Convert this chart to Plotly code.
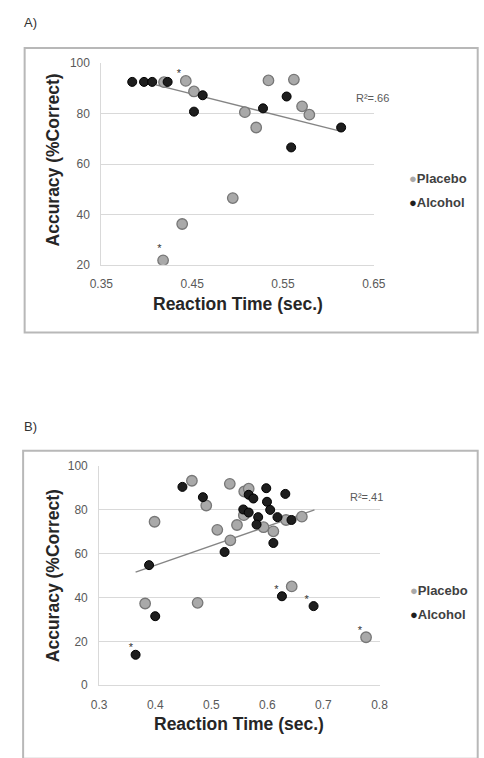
import plotly.graph_objects as go

W, H = 484, 758

# ---------------- Panel A data ----------------
a_placebo_rt = [0.419, 0.443, 0.452, 0.508, 0.5205, 0.534, 0.562, 0.571, 0.579, 0.4947, 0.439, 0.418]
a_placebo_acc = [92.5, 93.0, 88.8, 80.6, 74.5, 93.2, 93.5, 82.9, 79.6, 46.5, 36.2, 21.8]
a_alcohol_rt = [0.384, 0.397, 0.406, 0.423, 0.4616, 0.452, 0.528, 0.554, 0.559, 0.614]
a_alcohol_acc = [92.6, 92.6, 92.6, 92.6, 87.3, 80.8, 82.1, 86.8, 66.6, 74.5]
a_trend_rt = [0.410, 0.614]
a_trend_acc = [91.4, 73.0]
a_star_rt = [0.4355, 0.414]
a_star_acc = [95.7, 26.2]
a_xticks = [0.35, 0.45, 0.55, 0.65]
a_yticks = [20, 40, 60, 80, 100]

# ---------------- Panel B data ----------------
b_placebo_rt = [0.4654, 0.491, 0.3988, 0.533, 0.5107, 0.534, 0.5458, 0.5587, 0.5667,
                0.558, 0.5932, 0.6107, 0.6333, 0.6615, 0.382, 0.4756, 0.6434, 0.776]
b_placebo_acc = [93.3, 82.0, 74.6, 91.9, 70.9, 66.1, 73.1, 88.4, 89.7,
                 77.6, 72.1, 70.2, 75.4, 76.9, 37.3, 37.6, 45.1, 21.9]
b_alcohol_rt = [0.4485, 0.485, 0.5237, 0.389, 0.400, 0.365, 0.5667, 0.575, 0.557, 0.5667,
                0.5836, 0.5807, 0.6107, 0.598, 0.5993, 0.605, 0.618, 0.632, 0.643,
                0.626, 0.6824]
b_alcohol_acc = [90.5, 85.8, 60.8, 54.8, 31.5, 13.9, 86.9, 85.2, 80.2, 78.8,
                 76.7, 73.3, 64.9, 89.9, 83.7, 80.0, 76.7, 87.3, 75.4,
                 40.6, 36.1]
b_trend_rt = [0.365, 0.684]
b_trend_acc = [51.6, 80.0]
b_star_rt = [0.3565, 0.6163, 0.670, 0.765]
b_star_acc = [16.9, 43.4, 38.8, 24.8]
b_xticks = [0.3, 0.4, 0.5, 0.6, 0.7, 0.8]
b_yticks = [0, 20, 40, 60, 80, 100]

FONT = "Liberation Sans, Arial, sans-serif"
GRAY_FILL, GRAY_LINE = "#a9a9a9", "#777777"
BLACK_FILL, BLACK_LINE = "#1e1e1e", "#000000"

fig = go.Figure()

def add_panel(xa, ya, prt, pacc, art, aacc, trt, tacc, srt, sacc):
    fig.add_trace(go.Scatter(x=trt, y=tacc, mode="lines", xaxis=xa, yaxis=ya,
                             line=dict(color="#858585", width=1.3), showlegend=False, hoverinfo="skip"))
    fig.add_trace(go.Scatter(x=prt, y=pacc, mode="markers", xaxis=xa, yaxis=ya, name="Placebo",
                             marker=dict(size=10.5, color=GRAY_FILL, line=dict(color=GRAY_LINE, width=1.3)),
                             showlegend=False))
    fig.add_trace(go.Scatter(x=art, y=aacc, mode="markers", xaxis=xa, yaxis=ya, name="Alcohol",
                             marker=dict(size=9, color=BLACK_FILL, line=dict(color=BLACK_LINE, width=1)),
                             showlegend=False))
    fig.add_trace(go.Scatter(x=srt, y=sacc, mode="text", text=["*"] * len(srt), xaxis=xa, yaxis=ya,
                             textfont=dict(size=11, color="#333333", family=FONT),
                             showlegend=False, hoverinfo="skip"))

add_panel("x", "y", a_placebo_rt, a_placebo_acc, a_alcohol_rt, a_alcohol_acc,
          a_trend_rt, a_trend_acc, a_star_rt, a_star_acc)
add_panel("x2", "y2", b_placebo_rt, b_placebo_acc, b_alcohol_rt, b_alcohol_acc,
          b_trend_rt, b_trend_acc, b_star_rt, b_star_acc)

def px_x(p):
    return p / W

def px_y(p):
    return 1 - p / H

axis_common = dict(gridcolor="#d9d9d9", gridwidth=1, zeroline=False,
                   showline=True, linecolor="#d9d9d9", linewidth=1, ticks="",
                   tickfont=dict(size=12, color="#595959", family=FONT))

fig.update_layout(
    width=W, height=H, margin=dict(l=0, r=0, t=0, b=0),
    paper_bgcolor="white", plot_bgcolor="white",
    font=dict(family=FONT),
    xaxis=dict(domain=[px_x(94), px_x(380.7)], range=[0.35, 0.65], tickvals=a_xticks,
               ticktext=[f"{v:.2f}" for v in a_xticks], anchor="y", showgrid=False,
               ticklabelstandoff=8, **axis_common),
    yaxis=dict(domain=[px_y(262.7), px_y(57.3)], range=[20, 100], tickvals=a_yticks,
               anchor="x", showgrid=True, ticklabelstandoff=8, **axis_common),
    xaxis2=dict(domain=[px_x(91.7), px_x(386.7)], range=[0.3, 0.8], tickvals=b_xticks,
                ticktext=[f"{v:g}" for v in b_xticks], anchor="y2", showgrid=False,
                ticklabelstandoff=8, **axis_common),
    yaxis2=dict(domain=[px_y(691), px_y(467.7)], range=[0, 100], tickvals=b_yticks,
                anchor="x2", showgrid=True, ticklabelstandoff=8, **axis_common),
)

# Panel frames
fig.add_shape(type="rect", xref="paper", yref="paper",
              x0=px_x(13.3), x1=px_x(490), y0=px_y(331.7), y1=px_y(41.7),
              line=dict(color="#b8b8b8", width=2), layer="below")
fig.add_shape(type="rect", xref="paper", yref="paper",
              x0=px_x(11.7), x1=px_x(490), y0=px_y(766), y1=px_y(452),
              line=dict(color="#b8b8b8", width=2), layer="below")

ann = []
def text(x, y, t, size, color="#333333", bold=False, angle=0, xanchor="center"):
    ann.append(dict(x=px_x(x), y=px_y(y), xref="paper", yref="paper", text=f"<b>{t}</b>" if bold else t,
                    showarrow=False, xanchor=xanchor, yanchor="middle", textangle=angle,
                    font=dict(size=size, color=color, family=FONT)))

text(10, 16, "A)", 13, xanchor="left")
text(10, 427, "B)", 13, xanchor="left")
text(43.5, 156, "Accuracy (%Correct)", 17.5, color="#262626", bold=True, angle=-90)
text(43, 579, "Accuracy (%Correct)", 17.5, color="#262626", bold=True, angle=-90)
text(238, 303, "Reaction Time (sec.)", 17.5, color="#262626", bold=True)
text(239, 731, "Reaction Time (sec.)", 17.5, color="#262626", bold=True)
text(379.5, 92.5, "R²=.66", 11, color="#595959")
text(373, 499.5, "R²=.41", 11, color="#595959")

def legend_item(x, y, label, color):
    ann.append(dict(x=px_x(x), y=px_y(y), xref="paper", yref="paper",
                    text=f"<span style='color:{color}'>●</span><b>{label}</b>",
                    showarrow=False, xanchor="left", yanchor="middle",
                    font=dict(size=13, color="#404040", family=FONT)))

legend_item(416, 175, "Placebo", GRAY_FILL)
legend_item(416, 199.5, "Alcohol", BLACK_FILL)
legend_item(417, 594, "Placebo", GRAY_FILL)
legend_item(417, 618.5, "Alcohol", BLACK_FILL)

fig.update_layout(annotations=ann)

fig.write_html("out.html", config={"displayModeBar": False},
               post_script="document.documentElement.style.overflow='hidden';"
                           "document.body.style.margin='0';document.body.style.overflow='hidden';")
